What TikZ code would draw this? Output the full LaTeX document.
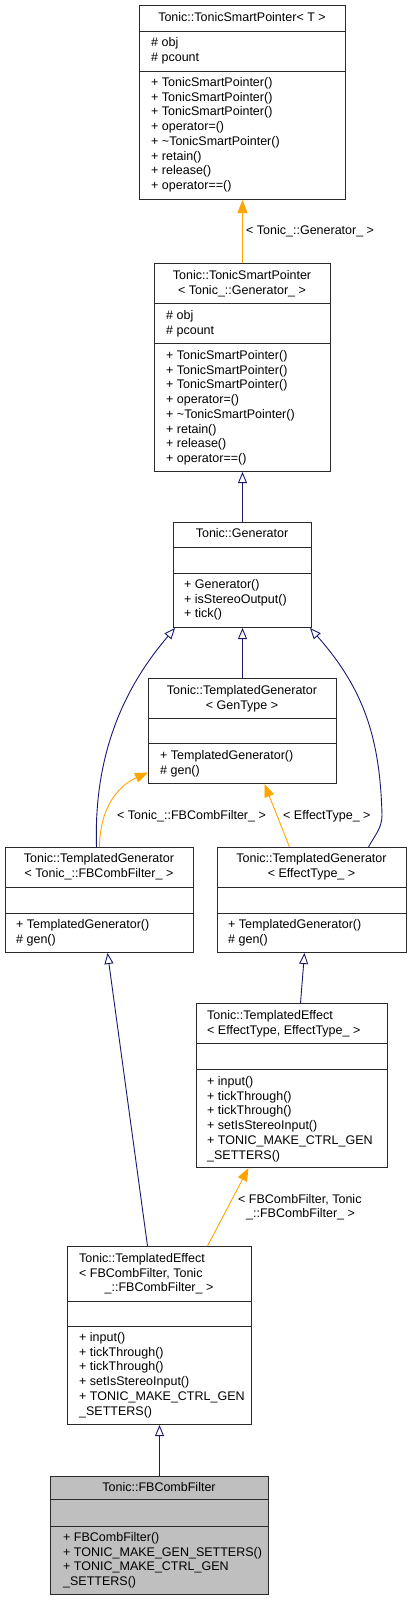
\documentclass[tikz,border=0pt]{standalone}
\usepackage{fontspec}
\setmainfont{Liberation Sans}
\usetikzlibrary{arrows.meta}
\definecolor{edgeblue}{HTML}{191970}
\definecolor{edgeorange}{HTML}{FFA500}
\definecolor{boxline}{HTML}{2A2A2A}
\definecolor{fbfill}{HTML}{BFBFBF}
\newcommand\umllines[5]{%
  \foreach \t [count=\i] in {#5} {%
    \node[txt, anchor=#4] (#1\i) at (#2, {#3+4.5+(\i-1)*14.7}) {\t};
  }%
}
\newcommand\umlsep[2]{%
  \draw[boxline, line width=0.9bp] (#1.west |- 0,#2) -- (#1.east |- 0,#2);
}
\begin{document}
\begin{tikzpicture}[x=1bp,y=-1bp,
  box/.style={draw=boxline, fill=white, line width=1bp, inner sep=0pt, anchor=north west},
  txt/.style={inner sep=0pt, font=\fontsize{12.5bp}{14.7bp}\selectfont},
  inh/.style={draw=edgeblue, line width=0.9bp, -{Triangle[open, length=11bp, width=9bp]}},
  tmpl/.style={draw=edgeorange, line width=0.9bp, -{Triangle[length=13bp, width=10bp]}},
  lbl/.style={txt, anchor=base west}
]
\useasboundingbox (0,0) rectangle (411,1601);

% ---- boxes ----
\node[box, minimum width=206bp, minimum height=194bp] (b1) at (139,5) {};
\umlsep{b1}{31}\umlsep{b1}{71}
\umllines{b1t}{242}{17}{base}{{Tonic::TonicSmartPointer< T >}}
\umllines{b1a}{151}{42}{base west}{\# obj, \# pcount}
\umllines{b1m}{151}{82}{base west}{+ TonicSmartPointer(), + TonicSmartPointer(), + TonicSmartPointer(), + operator=(), + \textasciitilde TonicSmartPointer(), + retain(), + release(), + operator==()}

\node[box, minimum width=176bp, minimum height=208bp] (b2) at (154,263) {};
\umlsep{b2}{303}\umlsep{b2}{343}
\umllines{b2t}{242}{275}{base}{Tonic::TonicSmartPointer, {< Tonic\_::Generator\_ >}}
\umllines{b2a}{166}{315}{base west}{\# obj, \# pcount}
\umllines{b2m}{166}{355}{base west}{+ TonicSmartPointer(), + TonicSmartPointer(), + TonicSmartPointer(), + operator=(), + \textasciitilde TonicSmartPointer(), + retain(), + release(), + operator==()}

\node[box, minimum width=138bp, minimum height=105bp] (b3) at (173,522) {};
\umlsep{b3}{547}\umlsep{b3}{573}
\umllines{b3t}{242}{533}{base}{Tonic::Generator}
\umllines{b3m}{184}{584}{base west}{+ Generator(), + isStereoOutput(), + tick()}

\node[box, minimum width=188bp, minimum height=105bp] (b4) at (148,678) {};
\umlsep{b4}{718}\umlsep{b4}{743}
\umllines{b4t}{242}{690}{base}{Tonic::TemplatedGenerator, {< GenType >}}
\umllines{b4m}{160}{755}{base west}{+ TemplatedGenerator(), \# gen()}

\node[box, minimum width=188bp, minimum height=105bp] (b5) at (5,847) {};
\umlsep{b5}{887}\umlsep{b5}{913}
\umllines{b5t}{99}{858}{base}{Tonic::TemplatedGenerator, {< Tonic\_::FBCombFilter\_ >}}
\umllines{b5m}{16}{924}{base west}{+ TemplatedGenerator(), \# gen()}

\node[box, minimum width=189bp, minimum height=105bp] (b6) at (217,847) {};
\umlsep{b6}{887}\umlsep{b6}{913}
\umllines{b6t}{311.5}{858}{base}{Tonic::TemplatedGenerator, {< EffectType\_ >}}
\umllines{b6m}{228}{924}{base west}{+ TemplatedGenerator(), \# gen()}

\node[box, minimum width=191bp, minimum height=164bp] (b7) at (196,1003) {};
\umlsep{b7}{1043}\umlsep{b7}{1069}
\umllines{b7t}{207}{1015}{base west}{Tonic::TemplatedEffect, {< EffectType, EffectType\_ >}}
\umllines{b7m}{207}{1081}{base west}{+ input(), + tickThrough(), + tickThrough(), + setIsStereoInput(), + TONIC\_MAKE\_CTRL\_GEN, \_SETTERS()}

\node[box, minimum width=184bp, minimum height=178bp] (b8) at (67,1246) {};
\umlsep{b8}{1301}\umlsep{b8}{1326}
\umllines{b8t}{79}{1258}{base west}{Tonic::TemplatedEffect, {< FBCombFilter, Tonic}}
\umllines{b8u}{159}{1287}{base}{\_::FBCombFilter\_ >}
\umllines{b8m}{79}{1337}{base west}{+ input(), + tickThrough(), + tickThrough(), + setIsStereoInput(), + TONIC\_MAKE\_CTRL\_GEN, \_SETTERS()}

\node[box, fill=fbfill, minimum width=218bp, minimum height=118bp] (b9) at (50,1476) {};
\umlsep{b9}{1499}\umlsep{b9}{1526}
\umllines{b9t}{159}{1487}{base}{Tonic::FBCombFilter}
\umllines{b9m}{63}{1537}{base west}{+ FBCombFilter(), + TONIC\_MAKE\_GEN\_SETTERS(), + TONIC\_MAKE\_CTRL\_GEN, \_SETTERS()}

% ---- connectors ----
\draw[tmpl] (b2.north) -- (b1.south);
\node[lbl] (l1) at (246,234.5) {< Tonic\_::Generator\_ >};
\draw[inh] (b3.north) -- (b2.south);
\draw[inh] (b4.north) -- (b3.south);
\draw[inh] ([xshift=-3bp]b5.north) .. controls (93,740) and (135,675) .. ([xshift=2bp]b3.south west);
\draw[tmpl] (b5.north) .. controls (100,805) and (120,785) .. ([yshift=-41.5bp]b4.west);
\node[lbl] (l2) at (117,819.5) {< Tonic\_::FBCombFilter\_ >};
\draw[tmpl] ([xshift=-22.5bp]b6.north) -- ([xshift=22bp]b4.south);
\node[lbl] (l3) at (283,819.5) {< EffectType\_ >};
\draw[inh] ([xshift=56.5bp]b6.north) .. controls (375,835) and (382,828) .. (382,815) .. controls (380,740) and (365,690) .. ([xshift=-2bp]b3.south east);
\draw[inh] ([xshift=8.5bp]b7.north) -- ([xshift=-7.5bp]b6.south);
\draw[inh] ([xshift=-12bp]b8.north) -- ([xshift=8bp]b5.south);
\draw[tmpl] ([xshift=48bp]b8.north) -- ([xshift=-43.5bp]b7.south);
\node[lbl] (l4) at (238,1203.5) {< FBCombFilter, Tonic};
\node[lbl] (l5) at (246,1217.5) {\_::FBCombFilter\_ >};
\draw[inh] (b9.north) -- (b8.south);
\end{tikzpicture}
\end{document}
